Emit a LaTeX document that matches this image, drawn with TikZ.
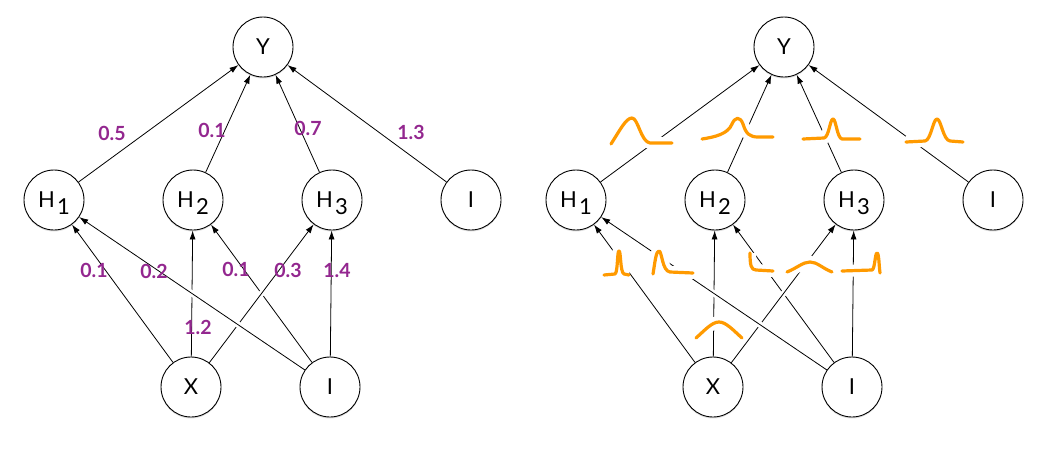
\documentclass[tikz,border=0pt]{standalone}
\usepackage{fontspec}
\setmainfont{Lato}
\usetikzlibrary{arrows.meta,shadows}
\definecolor{wpurple}{HTML}{93278F}
\definecolor{gorange}{HTML}{FF9A00}
\newcommand\hsub[1]{H\kern2pt\raisebox{-7pt}[0pt][0pt]{#1}}
\begin{document}
\begin{tikzpicture}[x=1pt,y=-1pt,
  unit/.style={circle,draw,line width=0.9pt,fill=white,minimum size=60pt,inner sep=0pt,
    font=\fontsize{22}{22}\selectfont,
    drop shadow={shadow xshift=0pt,shadow yshift=-1.5pt,opacity=0.25}},
  conn/.style={line width=0.8pt,-{Latex[length=9pt,width=6pt]}},
  halo/.style={preaction={draw=white,line width=6pt,-,shorten <=20pt,shorten >=20pt}},
  wt/.style={text=wpurple,font=\bfseries\fontsize{19.5}{19.5}\selectfont,inner sep=0pt},
  gauss/.style={draw=gorange,line width=3.2pt,line cap=round,line join=round,
    preaction={draw=white,line width=12pt}}
]
\useasboundingbox (0,0) rectangle (1046,453);

% ---------------- left network ----------------
\node[unit] (LY)  at (263,47)  {Y};
\node[unit] (LH1) at (54,200)  {\hsub{1}};
\node[unit] (LH2) at (193,200) {\hsub{2}};
\node[unit] (LH3) at (332,200) {\hsub{3}};
\node[unit] (LB)  at (471,200) {I};
\node[unit] (LX)  at (191,387) {X};
\node[unit] (LI)  at (330,387) {I};

\draw[conn] (LH1) -- (LY);
\draw[conn] (LH2) -- (LY);
\draw[conn] (LH3) -- (LY);
\draw[conn] (LB)  -- (LY);
\draw[conn] (LX) -- (LH1);
\draw[conn] (LX) -- (LH2);
\draw[conn] (LI) -- (LH2);
\draw[conn] (LI) -- (LH3);
\draw[conn,halo] (LX) -- (LH3);
\draw[conn,halo] (LI) -- (LH1);

\node[wt] (w1)  at (112,133) {0.5};
\node[wt] (w2)  at (212,130) {0.1};
\node[wt] (w3)  at (308,128) {0.7};
\node[wt] (w4)  at (411,132) {1.3};
\node[wt] (w5)  at (94,270)  {0.1};
\node[wt] (w6)  at (154,271) {0.2};
\node[wt] (w7)  at (236,269) {0.1};
\node[wt] (w8)  at (288,270) {0.3};
\node[wt] (w9)  at (337,271) {1.4};
\node[wt] (w10) at (198,327) {1.2};

% ---------------- right network ----------------
\node[unit] (RY)  at (784,47)  {Y};
\node[unit] (RH1) at (576,200) {\hsub{1}};
\node[unit] (RH2) at (715,200) {\hsub{2}};
\node[unit] (RH3) at (854,200) {\hsub{3}};
\node[unit] (RB)  at (993,200) {I};
\node[unit] (RX)  at (713,387) {X};
\node[unit] (RI)  at (852,387) {I};

\draw[conn] (RH1) -- (RY);
\draw[conn] (RH2) -- (RY);
\draw[conn] (RH3) -- (RY);
\draw[conn] (RB)  -- (RY);
\draw[conn] (RX) -- (RH1);
\draw[conn] (RX) -- (RH2);
\draw[conn] (RI) -- (RH2);
\draw[conn] (RI) -- (RH3);
\draw[conn,halo] (RX) -- (RH3);
\draw[conn,halo] (RI) -- (RH1);

% weight distributions
\draw[gauss] (611,144) .. controls (620,130) and (626,118) .. (632,118)
  .. controls (638,118) and (641,142) .. (650,143) -- (672,143);
\draw[gauss] (702,139) .. controls (715,137) and (728,134) .. (732,124)
  .. controls (735,117) and (740,116) .. (743,124)
  .. controls (746,134) and (750,137) .. (758,137) -- (773,137);
\draw[gauss] (803,139) -- (824,138) .. controls (829,137) and (830,119) .. (833,119)
  .. controls (836,119) and (837,138) .. (842,139) -- (860,139);
\draw[gauss] (906,142) -- (925,141) .. controls (931,140) and (933,119) .. (937,119)
  .. controls (941,119) and (943,140) .. (950,141) -- (963,142);
\draw[gauss] (604,275) -- (615,274) .. controls (618,272) and (617,251) .. (619,251)
  .. controls (621,251) and (620,272) .. (624,274) -- (629,275);
\draw[gauss] (653,274) .. controls (655,262) and (656,251) .. (659,251)
  .. controls (662,251) and (662,271) .. (670,272) -- (693,273);
\draw[gauss] (750,253) .. controls (750,265) and (751,270) .. (756,270) -- (773,271);
\draw[gauss] (787,272) .. controls (797,268) and (803,262) .. (810,262)
  .. controls (817,262) and (822,268) .. (832,272);
\draw[gauss] (842,271) -- (872,270) .. controls (875,269) and (875,253) .. (877,253)
  .. controls (879,253) and (879,266) .. (880,273);
\draw[gauss] (696,338) .. controls (705,330) and (712,322) .. (719,322)
  .. controls (726,322) and (733,330) .. (742,338);
\end{tikzpicture}
\end{document}
